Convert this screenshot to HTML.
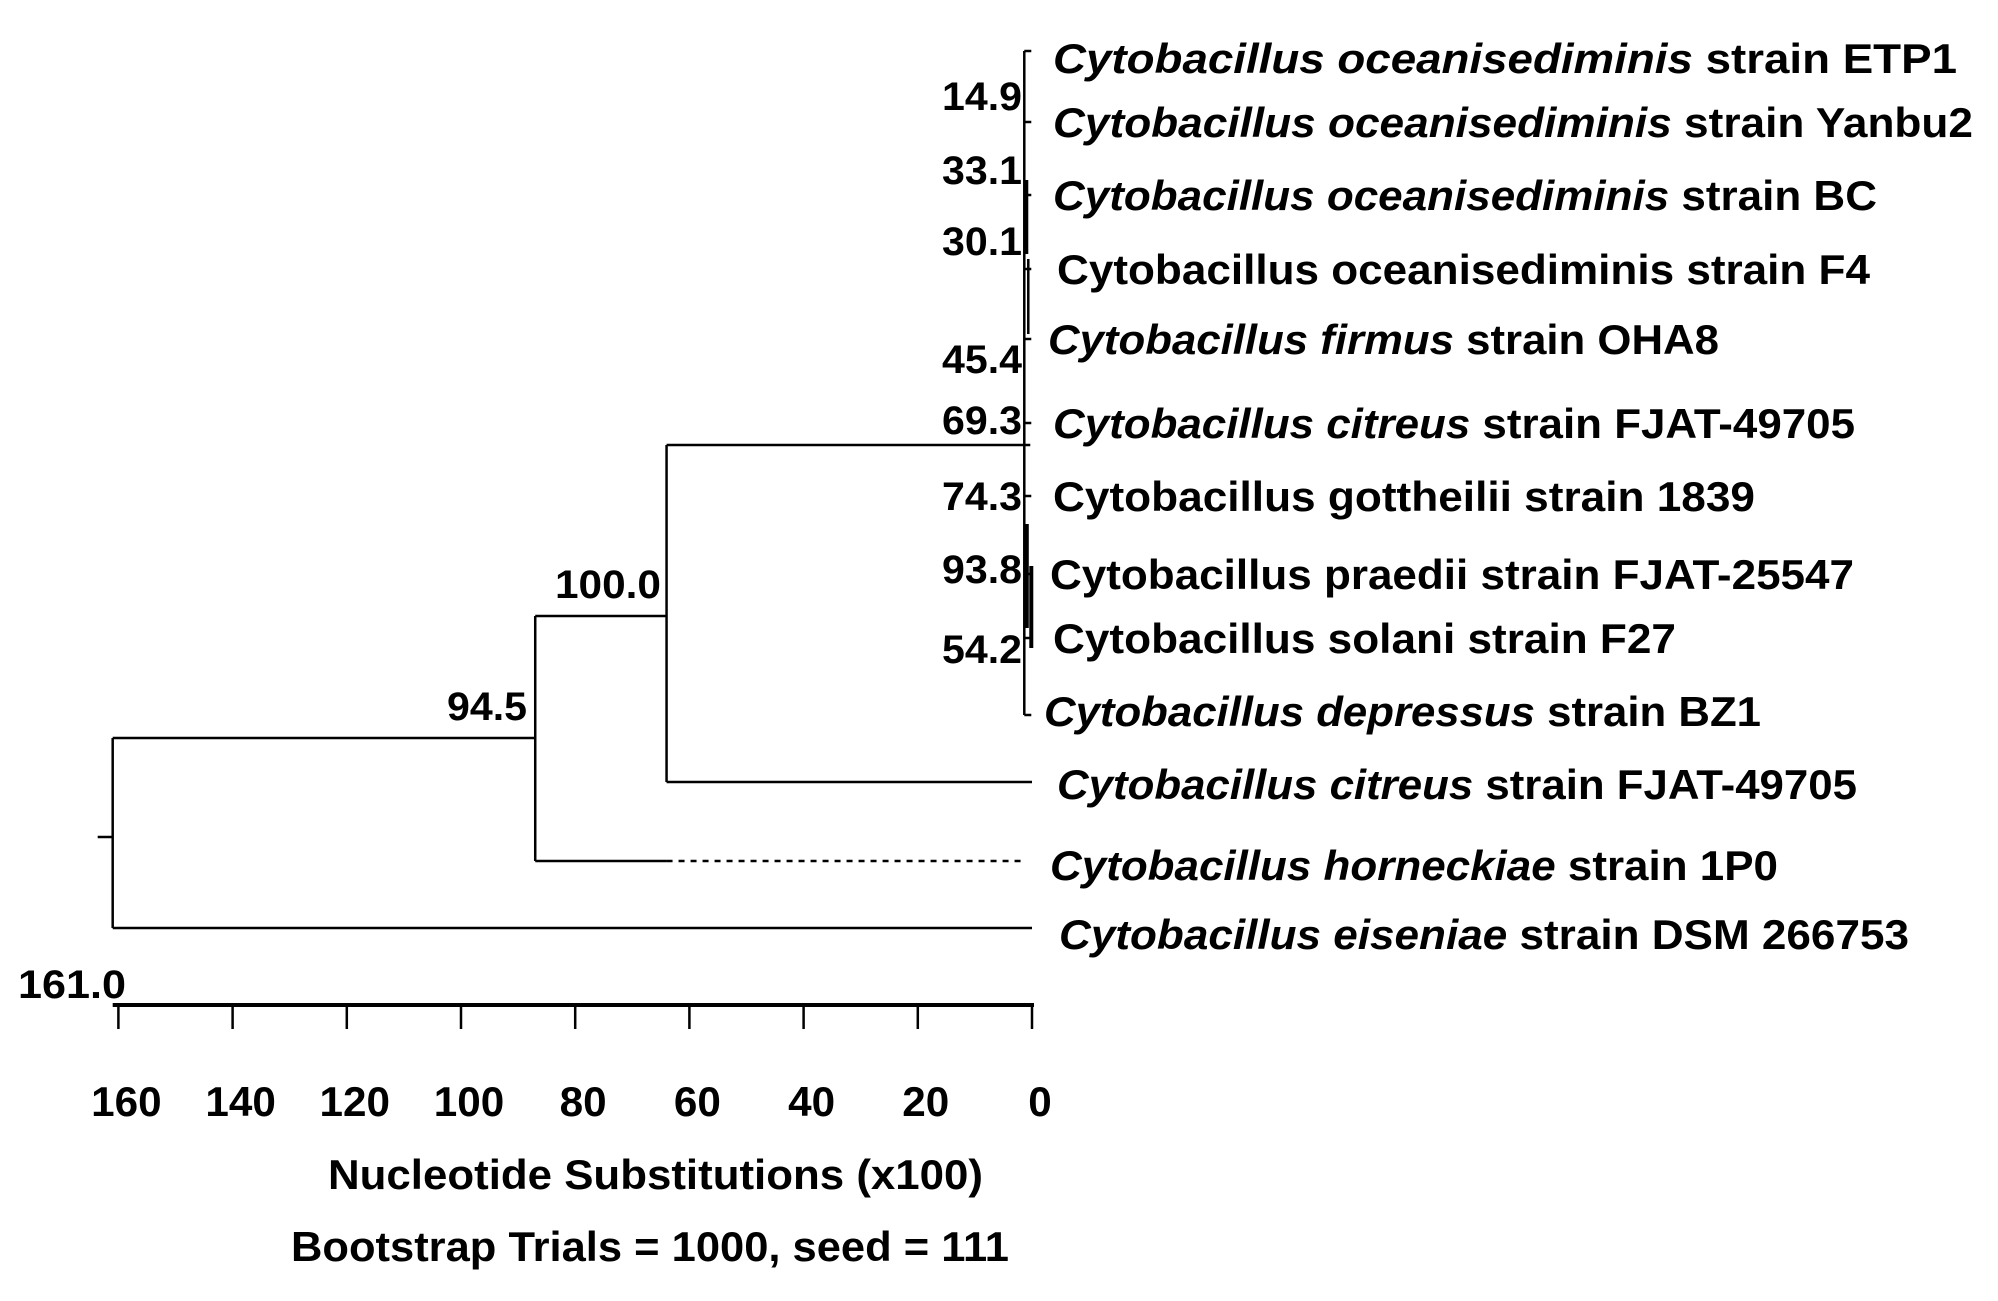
<!DOCTYPE html>
<html><head><meta charset="utf-8"><style>
html,body{margin:0;padding:0;background:#fff}
svg text{font-family:"Liberation Sans",Arial,sans-serif;font-weight:bold;fill:#000}
</style></head><body>
<svg id="chart" width="1998" height="1296" viewBox="0 0 1998 1296" xmlns="http://www.w3.org/2000/svg">
<g id="tree" stroke="#000" stroke-width="2.5" fill="none"></g>
<g id="labels"></g>
<g id="boots"></g>
<g id="axis"></g>
</svg>
<script>
const leafGenus = ["Cytobacillus oceanisediminis","Cytobacillus oceanisediminis","Cytobacillus oceanisediminis","Cytobacillus oceanisediminis","Cytobacillus firmus","Cytobacillus citreus","Cytobacillus gottheilii","Cytobacillus praedii","Cytobacillus solani","Cytobacillus depressus","Cytobacillus citreus","Cytobacillus horneckiae","Cytobacillus eiseniae"];
const leafStrain = ["strain ETP1","strain Yanbu2","strain BC","strain F4","strain OHA8","strain FJAT-49705","strain 1839","strain FJAT-25547","strain F27","strain BZ1","strain FJAT-49705","strain 1P0","strain DSM 266753"];
const leafItalic = [true,true,true,false,true,true,false,false,false,true,true,true,true];
const leafWidth = [904,920,824,813,671,802,702,804,623,717,800,728,850];
const leafX = [1053,1053,1053,1057,1048,1053,1053,1050,1053,1044,1057,1050,1059];
const leafY = [58,122,195,269,339,423,496,574,638,711,784,865,934];
const bootValues = ["14.9","33.1","30.1","45.4","69.3","74.3","93.8","54.2"];
const bootY = [96,170,241,359,420,496,569,649];
const nodeHeights = [161.0, 87.0, 64.0, 0.3];
const nodeBoot = ["161.0","94.5","100.0"];
const ticks = [160,140,120,100,80,60,40,20,0];

const NS="http://www.w3.org/2000/svg";
const X = v => 1032 - v*5.71;
function el(tag, attrs, parent){const e=document.createElementNS(NS,tag);for(const k in attrs)e.setAttribute(k,attrs[k]);parent.appendChild(e);return e;}
const tree=document.getElementById('tree'), labels=document.getElementById('labels'), boots=document.getElementById('boots'), axis=document.getElementById('axis');
function line(x1,y1,x2,y2,name,dash){const l=el('line',{x1,y1,x2,y2},tree);


if(dash)l.setAttribute('stroke-dasharray','6 6');return l;}

const xr=X(nodeHeights[0]), x1=X(nodeHeights[1]), x2=X(nodeHeights[2]), xc=X(nodeHeights[3]), x0=X(0);
const yClade=445, yCit=leafY[10]-2, yHor=leafY[11]-4, yEis=leafY[12]-6;
const y1=(yClade+yCit)/2+31, yRoot=(y1+yEis)/2-100;
// root
line(xr,738,xr,yEis,'root-vertical');
line(xr-15,837,xr,837,'root-stub');
line(xr,738,x1,738,'root-branch');
line(xr,yEis,x0,yEis,'eiseniae-branch');
// node 94.5
line(x1,616,x1,yHor,'node-94-vertical');
line(x1,616,x2,616,'node-94-branch');
line(x1,yHor,x2,yHor,'horneckiae-branch');
line(x2,yHor,x0-10,yHor,'horneckiae-dotted',true);
// node 100
line(x2,yClade,x2,yCit,'node-100-vertical');
line(x2,yClade,xc,yClade,'node-100-branch');
line(x2,yCit,x0,yCit,'citreus-branch');
// clade
line(xc-6,leafY[0]-7,xc-6,leafY[9]+4,'clade-vertical');
for(let i=0;i<10;i++){line(xc-6,leafY[i]+ (i==0?-7:(i==9?4:0)),xc+1,leafY[i]+(i==0?-7:(i==9?4:0)),'leaf-stub');}
line(xc-4,leafY[2]-15,xc-4,leafY[3]-15,'subclade-thick').setAttribute('stroke-width','4');
line(xc-2,leafY[3]-10,xc-2,leafY[4]-5,'subclade-oha8');
line(xc-4,leafY[7]-50,xc-4,leafY[8]-10,'subclade-thick2').setAttribute('stroke-width','5');
line(xc+1,leafY[7]-8,xc+1,leafY[8]+10,'subclade-solani').setAttribute('stroke-width','4');

for(let i=0;i<leafGenus.length;i++){
 const t=el('text',{x:leafX[i],y:leafY[i]+15,'font-size':42,textLength:leafWidth[i],lengthAdjust:'spacingAndGlyphs'},labels);
 
 
 const a=el('tspan',{},t);a.textContent=leafGenus[i];if(leafItalic[i])a.setAttribute('font-style','italic');
 const b=el('tspan',{},t);b.textContent=' '+leafStrain[i];
}
for(let i=0;i<bootValues.length;i++){
 const t=el('text',{x:1022,y:bootY[i]+14,'font-size':40,'text-anchor':'end',textLength:80,lengthAdjust:'spacingAndGlyphs'},boots);
 
 
 t.textContent=bootValues[i];
}
const nb=[[126,998,108],[527,720,80],[661,598,106]];
for(let i=0;i<nodeBoot.length;i++){
 const t=el('text',{x:nb[i][0],y:nb[i][1],'font-size':40,'text-anchor':'end',textLength:nb[i][2],lengthAdjust:'spacingAndGlyphs'},boots);
 
 
 t.textContent=nodeBoot[i];
}
// axis
const ax=el('line',{x1:X(161),y1:1005,x2:X(0)+2,y2:1005,stroke:'#000','stroke-width':4},axis);


for(const v of ticks){
 const tk=el('line',{x1:X(v),y1:1005,x2:X(v),y2:1029,stroke:'#000','stroke-width':2.5},axis);
 
 
 const t=el('text',{x:X(v)+8,y:1116,'font-size':42,'text-anchor':'middle',textLength:String(v).length*23.5,lengthAdjust:'spacingAndGlyphs'},axis);
 
 
 t.textContent=v;
}
const t1=el('text',{x:328,y:1189,'font-size':42,textLength:655,lengthAdjust:'spacingAndGlyphs'},axis);


t1.textContent='Nucleotide Substitutions (x100)';
const t2=el('text',{x:291,y:1261,'font-size':42,textLength:718,lengthAdjust:'spacingAndGlyphs'},axis);


t2.textContent='Bootstrap Trials = 1000, seed = 111';
</script>
</body></html>
